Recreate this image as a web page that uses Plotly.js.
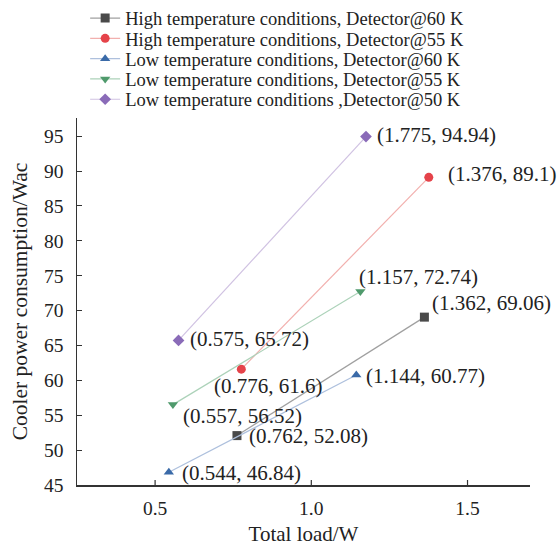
<!DOCTYPE html>
<html>
<head>
<meta charset="utf-8">
<script src="https://cdn.plot.ly/plotly-3.0.1.min.js"></script>
<style>html,body{margin:0;padding:0;background:#fff;}#chart{width:557px;height:546px;}</style>
</head>
<body>
<div id="chart"></div>
<script>
const seriesNames = [
  "High temperature conditions, Detector@60 K",
  "High temperature conditions, Detector@55 K",
  "Low temperature conditions, Detector@60 K",
  "Low temperature conditions, Detector@55 K",
  "Low temperature conditions ,Detector@50 K"
];
const xHigh60 = [0.762, 1.362];
const yHigh60 = [52.08, 69.06];
const xHigh55 = [0.776, 1.376];
const yHigh55 = [61.6, 89.1];
const xLow60 = [0.544, 1.144];
const yLow60 = [46.84, 60.77];
const xLow55 = [0.557, 1.157];
const yLow55 = [56.52, 72.74];
const xLow50 = [0.575, 1.175];
const yLow50 = [65.72, 94.94];
// point labels as printed on the chart
const labelsHigh60 = ["(0.762, 52.08)", "(1.362, 69.06)"];
const labelsHigh55 = ["(0.776, 61.6)", "(1.376, 89.1)"];
const labelsLow60 = ["(0.544, 46.84)", "(1.144, 60.77)"];
const labelsLow55 = ["(0.557, 56.52)", "(1.157, 72.74)"];
const labelsLow50 = ["(0.575, 65.72)", "(1.775, 94.94)"];
const xTickVals = [0.5, 1.0, 1.5];
const xTickText = ["0.5", "1.0", "1.5"];
const yTickVals = [45, 50, 55, 60, 65, 70, 75, 80, 85, 90, 95];

const FONT = "Liberation Serif, Times New Roman, serif";
const markerColors = ["#4a4a4a", "#e5434a", "#3a6aa8", "#4f9a6c", "#8a6bb8"];
const lineColors = ["#a0a0a0", "#f2b0ae", "#aec0dd", "#acd2b9", "#d0c2e2"];
const symbols = ["square", "circle", "triangle-up", "triangle-down", "diamond"];
const xs = [xHigh60, xHigh55, xLow60, xLow55, xLow50];
const ys = [yHigh60, yHigh55, yLow60, yLow55, yLow50];
const labels = [labelsHigh60, labelsHigh55, labelsLow60, labelsLow55, labelsLow50];
const yMin = 45, yMax = 97.6;

const legendIds = ["legend", "legend2", "legend3", "legend4", "legend5"];
const traces = xs.map((x, i) => ({
  x: x, y: ys[i], name: seriesNames[i], type: "scatter", mode: "lines+markers",
  legend: legendIds[i],
  line: {color: lineColors[i], width: 1.2},
  marker: {color: markerColors[i], symbol: symbols[i], size: 9}
}));

// label offsets [xshift, yshift] for [low point, high point] of each series
const offsets = [
  [[10, 0], [6, 14]],
  [[-29, -17], [17, 3]],
  [[11, -1], [8, -1]],
  [[8, -11], [-3, 14]],
  [[9, 1], [9, 2]]
];
const annotations = [];
xs.forEach((x, i) => {
  x.forEach((xv, j) => {
    annotations.push({
      x: xv, y: ys[i][j], xref: "x", yref: "y", text: labels[i][j],
      showarrow: false, xanchor: "left", yanchor: "middle",
      xshift: offsets[i][j][0], yshift: offsets[i][j][1],
      font: {family: FONT, size: 21, color: "#222"}
    });
  });
});

// inward x-axis tick marks, placed at the tick values
const shapes = xTickVals.map(v => ({
  type: "line", xref: "x", yref: "y", ysizemode: "pixel", yanchor: yMin,
  x0: v, x1: v, y0: 0, y1: 5, line: {color: "#333", width: 1.2}
}));

const plotTop = 118, plotBottom = 485;
const layout = {
  width: 557, height: 546,
  margin: {l: 77, r: 27, t: plotTop, b: 546 - plotBottom, autoexpand: false},
  paper_bgcolor: "#fff", plot_bgcolor: "#fff",
  font: {family: FONT, size: 19, color: "#222"},
  showlegend: true,
  xaxis: {
    range: [0.25, 1.70], tickvals: xTickVals, ticktext: xTickText,
    ticks: "outside", ticklen: 5, tickcolor: "rgba(0,0,0,0)", showgrid: false, zeroline: false,
    showline: true, linecolor: "#333", linewidth: 1.5,
    title: {text: "Total load/W", font: {family: FONT, size: 21}, standoff: 14},
    tickfont: {family: FONT, size: 19.5}
  },
  yaxis: {
    range: [yMin, yMax], tickvals: yTickVals,
    ticks: "inside", ticklen: 5, tickcolor: "#333", showgrid: false, zeroline: false,
    showline: true, linecolor: "#333", linewidth: 1.5, ticklabelstandoff: 8,
    title: {text: "Cooler power consumption/Wac", font: {family: FONT, size: 21.5}, standoff: 10},
    tickfont: {family: FONT, size: 19.5}
  },
  shapes: shapes,
  annotations: annotations
};
const plotH = plotBottom - plotTop;
legendIds.forEach((id, i) => {
  const py = 18.5 + 20.3 * i;
  layout[id] = {
    x: 0.018, y: (plotBottom - py) / plotH, xanchor: "left", yanchor: "middle",
    bgcolor: "rgba(0,0,0,0)", font: {family: FONT, size: 18.5, color: "#222"},
    itemwidth: 30
  };
});
Plotly.newPlot("chart", traces, layout, {displayModeBar: false, staticPlot: true});
</script>
</body>
</html>
